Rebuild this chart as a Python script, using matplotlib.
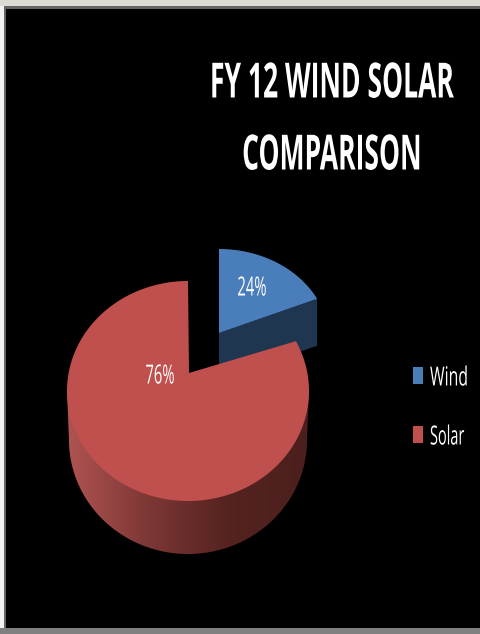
import matplotlib

matplotlib.use("Agg")

import matplotlib.pyplot as plt
import numpy as np
from matplotlib.colors import LinearSegmentedColormap
from matplotlib.patheffects import AbstractPathEffect
from matplotlib.patches import Polygon, Rectangle
from matplotlib.text import Text
from matplotlib.transforms import Affine2D, Bbox

W, H = 480, 634

TITLE_LINES = ["FY 12 WIND SOLAR", "COMPARISON"]
LABELS = ["Wind", "Solar"]
SHARES = [24, 76]
TOP_COLORS = ["#4a7ebb", "#c0504d"]
BLUE_SIDE = "#1f3650"
RED_SIDE_STOPS = ["#b05452", "#7d3735", "#552320", "#4b1f1d"]

# the perspective squeezes the slices, 24% only opens about 63 degrees on screen
SQUEEZE = 0.73
FONT = ["Open Sans", "DejaVu Sans"]


class Condensed(AbstractPathEffect):
    """Squeeze the glyph outlines around one pixel column."""

    def __init__(self, x0, factor):
        super().__init__()
        self.stretch = Affine2D().translate(-x0, 0).scale(factor, 1).translate(x0, 0)

    def draw_path(self, renderer, gc, tpath, affine, rgbFace=None):
        renderer.draw_path(gc, tpath, affine + self.stretch, rgbFace)


class NarrowText(Text):
    """No narrow font is installed: real text, drawn condensed, with the true box."""

    def __init__(self, x, y, s, factor, **kwargs):
        super().__init__(x, y, s, **kwargs)
        self.x0 = x
        self.factor = factor
        self.set_path_effects([Condensed(x, factor)])

    def get_window_extent(self, renderer=None, dpi=None):
        box = super().get_window_extent(renderer, dpi)
        x0 = self.x0 + (box.x0 - self.x0) * self.factor
        x1 = self.x0 + (box.x1 - self.x0) * self.factor
        return Bbox([[x0, box.y0], [x1, box.y1]])


def arc(cx, cy, rx, ry, start, end, n=200):
    """Points on an ellipse, angles in degrees clockwise from the top."""
    t = np.radians(np.linspace(start, end, n))
    return np.column_stack([cx + rx * np.sin(t), cy - ry * np.cos(t)])


def narrow_text(x, y, s, factor, size, weight="normal", ha="center"):
    ax.add_artist(NarrowText(x, y, s, factor, color="white", fontsize=size, fontweight=weight,
                             family=FONT, ha=ha, va="center", zorder=6))


fig = plt.figure(figsize=(W / 100, H / 100), dpi=100, facecolor="#dddbd6")
ax = fig.add_axes([0, 0, 1, 1])
ax.set_axis_off()

# window frame around the black plot
ax.add_patch(Rectangle((0, 6), 5, H, fc="#f2f2f2", ec="none", zorder=0))
ax.add_patch(Rectangle((4, 6), W, H, fc="#666666", ec="none", zorder=0))
ax.add_patch(Rectangle((6, 9), W, 619, fc="black", ec="none", zorder=1))
ax.add_patch(Rectangle((0, 628), W, 6, fc="#808080", ec="none", zorder=1))

sweep = SHARES[0] * 3.6 * SQUEEZE

# Wind slice, pulled out to the top right
blue_arc = arc(219, 340, 110, 91, 0, sweep)
blue_edge = np.array([[219, 333], blue_arc[-1]])
blue_side = np.vstack([blue_edge, blue_edge[::-1] + [0, 47]])
ax.add_patch(Polygon(blue_side, fc=BLUE_SIDE, ec="none", zorder=2))
ax.add_patch(Polygon(np.vstack([[219, 333], blue_arc]), fc=TOP_COLORS[0], ec="none", zorder=3))

# Solar slice: side wall with the shading, then the top
low = arc(188, 440, 119, 114, 90, 270)
wall = Polygon(np.vstack([[[309, 391]], low, [[67, 391]]]), fc="none", ec="none", zorder=4)
ax.add_patch(wall)
cmap = LinearSegmentedColormap.from_list("side", RED_SIDE_STOPS)
img = ax.imshow(
    np.linspace(0, 1, 256)[None, :],
    cmap=cmap,
    extent=(67, 309, 560, 380),
    aspect="auto",
    zorder=4,
)
img.set_clip_path(wall)

red_arc = arc(188, 391, 121, 110, sweep, 360, n=400)
ax.add_patch(Polygon(np.vstack([[189, 373], red_arc]), fc=TOP_COLORS[1], ec="none", zorder=5))

ax.set_xlim(0, W)
ax.set_ylim(H, 0)

# texts
narrow_text(332, 85, TITLE_LINES[0], 0.545, 35, weight="bold")
narrow_text(332, 157, TITLE_LINES[1], 0.545, 35, weight="bold")
narrow_text(252, 289, f"{SHARES[0]}%", 0.56, 19)
narrow_text(160, 377, f"{SHARES[1]}%", 0.56, 19)

# legend by hand, the entries sit far apart
for label, color, y, factor in zip(LABELS, TOP_COLORS, [375, 434], [0.6, 0.55]):
    ax.add_patch(Rectangle((413, y - 8.5), 10, 17, fc=color, ec="none", zorder=6))
    narrow_text(430, y + 4, label, factor, 19, ha="left")

fig.savefig("out.png", dpi=100, facecolor=fig.get_facecolor())
plt.close(fig)
